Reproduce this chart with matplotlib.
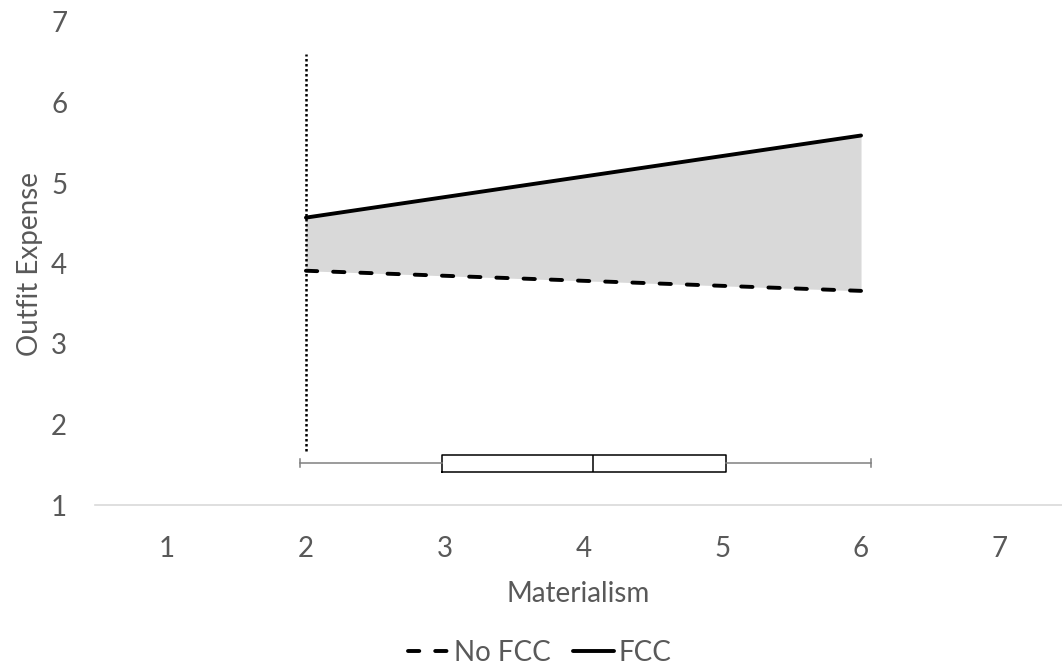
import matplotlib.pyplot as plt
import numpy as np

# simple slopes at low/high materialism
x_ends = [2, 6]
no_fcc = [3.91, 3.66]
fcc = [4.57, 5.59]

# boxplot of materialism distribution
box_stats = dict(whislo=1.96, q1=2.98, med=4.07, q3=5.03, whishi=6.07)
box_y = 1.52

jn_x = 2.0
jn_y = [1.67, 6.6]

x_ticks = [1, 2, 3, 4, 5, 6, 7]
y_ticks = [1, 2, 3, 4, 5, 6, 7]

txt = '#595959'
plt.rcParams['font.family'] = ['Lato', 'DejaVu Sans']

fig = plt.figure(figsize=(10.62, 6.71), dpi=100)
ax = fig.add_axes([95/1062, 1-505/671, 1-95/1062, (505-22)/671])

ax.fill_between(x_ends, no_fcc, fcc, color='#d9d9d9', lw=0, zorder=1)
ax.plot(x_ends, no_fcc, color='black', lw=2.8, ls=(0, (2.9, 4.1)),
        solid_capstyle='round', dash_capstyle='round', label='No FCC', zorder=3)
ax.plot(x_ends, fcc, color='black', lw=2.8, solid_capstyle='round',
        label='FCC', zorder=3)
ax.plot([jn_x, jn_x], jn_y, color='black', lw=1.8, ls=(0, (1, 1)), zorder=2)

stats = dict(box_stats, fliers=[])
ax.bxp([stats], positions=[box_y], vert=False, widths=0.21, showfliers=False,
       boxprops=dict(color='black', lw=1.1),
       medianprops=dict(color='black', lw=1.1),
       whiskerprops=dict(color='#808080', lw=1.1),
       capprops=dict(color='#808080', lw=1.1),
       capwidths=0.1, manage_ticks=False)

ax.set_xlim(0.48, 1 + (1062 - 167) / 138.8)
ax.set_ylim(1, 7)
ax.set_xticks(x_ticks)
ax.set_yticks(y_ticks)
ax.tick_params(axis='both', length=0, labelsize=20, labelcolor=txt)
ax.tick_params(axis='x', pad=22)
ax.tick_params(axis='y', pad=20)
for s in ['top', 'right', 'left']:
    ax.spines[s].set_visible(False)
ax.spines['bottom'].set_color('#d9d9d9')
ax.spines['bottom'].set_linewidth(1.2)

ax.set_xlabel('Materialism', fontsize=20, color=txt, labelpad=14)
ax.set_ylabel('Outfit Expense', fontsize=20, color=txt, labelpad=6)

fig.legend(loc='lower center', bbox_to_anchor=(0.508, -0.03), ncol=2,
           frameon=False, fontsize=20, labelcolor=txt, handlelength=1.5,
           handletextpad=0.15, columnspacing=0.8)

plt.savefig('out.png', dpi=100)
